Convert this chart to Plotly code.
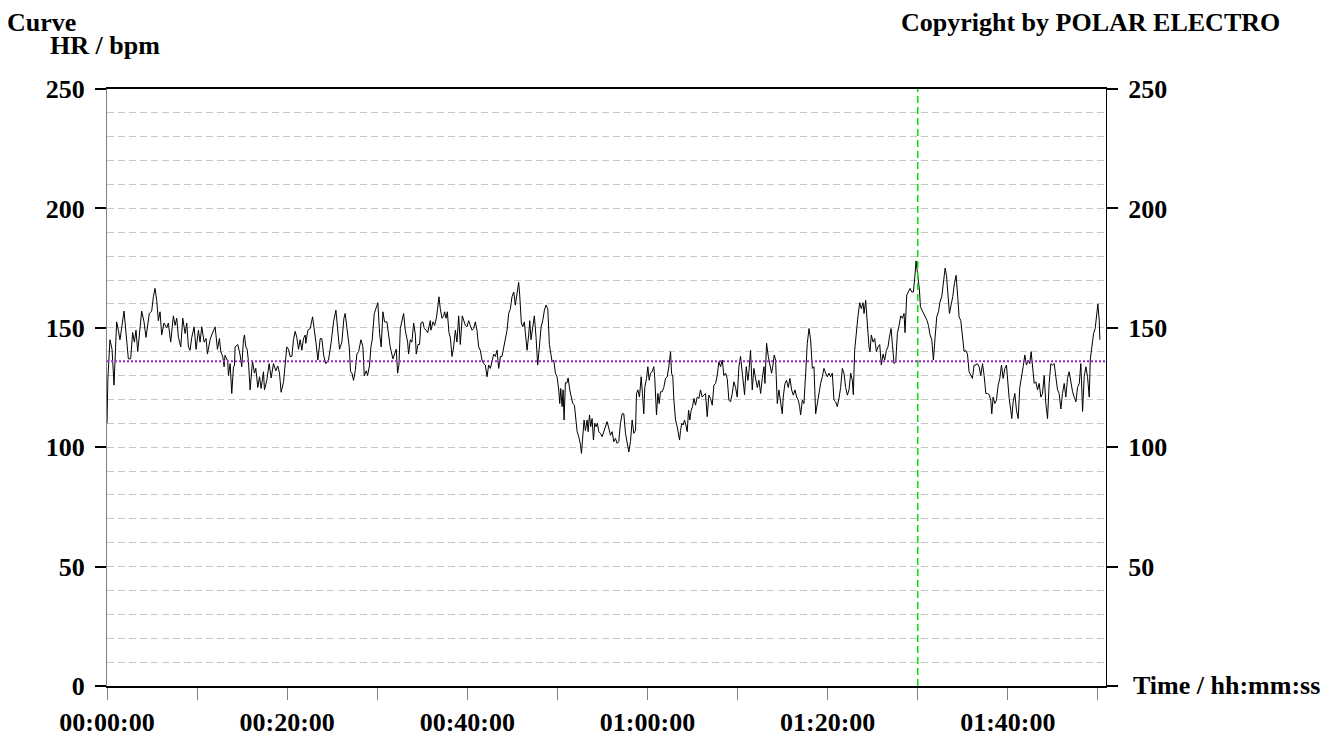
import plotly.graph_objects as go

# ---------------- data ----------------
minutes = [
    0.0, 0.1, 0.33, 0.56, 0.78, 1.07, 1.26, 1.44, 1.89, 2.11, 2.37, 2.63, 2.85, 3.04, 3.22, 3.41, 3.85, 4.11, 4.33, 4.7,
    4.96, 5.15, 5.33, 5.52, 5.7, 5.89, 6.07, 6.33, 6.63, 6.81, 7.07, 7.37, 7.56, 7.74, 7.93, 8.19, 8.41, 8.67, 8.85, 9.04,
    9.22, 9.41, 9.67, 9.89, 10.15, 10.33, 10.52, 10.78, 11.0, 11.15, 11.44, 11.63, 12.0, 12.26, 12.48, 12.63, 12.85, 13.0,
    13.1, 13.4, 13.48, 13.67, 13.85, 14.04, 14.15, 14.22, 14.52, 14.78, 14.96, 15.15, 15.26, 15.41, 15.56, 15.7, 15.89,
    16.15, 16.37, 16.52, 16.74, 16.93, 17.11, 17.37, 17.48, 17.74, 18.0, 18.22, 18.48, 18.74, 18.96, 19.15, 19.33, 19.6,
    19.78, 19.96, 20.15, 20.33, 20.52, 20.7, 20.89, 21.07, 21.26, 21.44, 21.63, 21.81, 22.0, 22.07, 22.3, 22.56, 22.82,
    23.04, 23.19, 23.41, 23.67, 23.85, 24.07, 24.3, 24.44, 24.59, 24.89, 25.15, 25.41, 25.63, 25.81, 26.07, 26.3, 26.44,
    26.67, 26.89, 27.04, 27.19,
    27.37, 27.56, 27.74, 27.93, 28.19, 28.41, 28.56, 28.78, 28.93, 29.15, 29.3, 29.44, 29.67, 29.89, 30.07, 30.26, 30.44,
    30.63, 30.81, 31.07, 31.26, 31.44, 31.74, 31.93, 32.11, 32.26, 32.41, 32.56, 32.74, 32.93, 33.11, 33.22, 33.37, 33.48,
    33.67, 33.85, 34.04, 34.22, 34.33, 34.52, 34.7, 34.85, 35.07, 35.22, 35.44, 35.6, 35.74, 35.89, 35.96, 36.19, 36.37,
    36.56, 36.7, 36.85, 37.0, 37.19, 37.37, 37.48, 37.63, 37.78, 37.96, 38.11, 38.3, 38.48, 38.67, 38.85, 39.04, 39.22,
    39.44, 39.59, 39.78, 39.96, 40.15, 40.33, 40.52, 40.7,
    40.89, 41.07, 41.26, 41.44, 41.63, 41.81, 42.0, 42.19, 42.37, 42.56, 42.74, 42.93, 43.11, 43.3, 43.48, 43.67, 43.85,
    44.04, 44.22, 44.41, 44.59, 44.78, 44.96, 45.15, 45.33, 45.52, 45.7, 45.81, 46.0, 46.15, 46.33, 46.44, 46.63, 46.81,
    46.93, 47.07, 47.26, 47.44, 47.63, 47.81, 48.0, 48.19, 48.37, 48.56, 48.74, 48.93, 49.11, 49.26, 49.41, 49.59, 49.78,
    49.96, 50.15, 50.26, 50.37, 50.52, 50.63, 50.74, 50.89, 51.07, 51.19, 51.37, 51.56, 51.7, 51.89, 52.0, 52.19, 52.37,
    52.56, 52.67, 52.81, 52.96, 53.11, 53.3, 53.41, 53.56, 53.7, 53.85, 54.0, 54.15, 54.3, 54.44, 54.59,
    54.78, 54.96, 55.15, 55.33, 55.52, 55.7, 55.89, 56.07, 56.26, 56.44, 56.63, 56.81, 57.0, 57.19, 57.37, 57.56, 57.74,
    57.93, 58.11, 58.3, 58.48, 58.67, 58.78, 58.93, 59.11, 59.3, 59.44, 59.59, 59.7, 59.89, 60.04, 60.19, 60.33, 60.52,
    60.7, 60.81, 61.0, 61.15, 61.3, 61.44, 61.63, 61.81, 62.0, 62.19, 62.37, 62.56, 62.67, 62.81, 62.93, 63.11, 63.3,
    63.44, 63.56, 63.67, 63.81, 63.96, 64.11, 64.26, 64.41, 64.56, 64.7, 64.85, 65.0, 65.15, 65.33, 65.52, 65.7, 65.89,
    66.07, 66.26, 66.44, 66.63, 66.81, 67.0, 67.19, 67.37, 67.56, 67.74, 67.93, 68.11, 68.3, 68.48,
    68.67, 68.85, 69.04, 69.22, 69.41, 69.59, 69.78, 69.96, 70.15, 70.33, 70.52, 70.78, 70.96, 71.15, 71.26, 71.44,
    71.63, 71.81, 72.0, 72.19, 72.37, 72.56, 72.74, 72.93, 73.04, 73.22, 73.41, 73.59, 73.78, 73.93, 74.07, 74.22, 74.41,
    74.59, 74.78, 74.96, 75.07, 75.26, 75.44, 75.63, 75.81, 76.0, 76.19, 76.37, 76.56, 76.74, 76.89, 77.0, 77.19, 77.37,
    77.56, 77.74, 77.93, 78.11, 78.3, 78.48, 78.67, 78.85, 79.04, 79.22, 79.41, 79.59, 79.78, 79.96, 80.15, 80.33, 80.52,
    80.7, 80.89, 81.07, 81.26, 81.44, 81.63, 81.81, 82.0, 82.19, 82.37,
    82.56, 82.74, 82.85, 83.0, 83.19, 83.37, 83.56, 83.74, 83.93, 84.04, 84.22, 84.41, 84.59, 84.7, 84.85, 85.04, 85.22,
    85.41, 85.59, 85.78, 85.96, 86.15, 86.33, 86.52, 86.7, 86.85, 87.04, 87.19, 87.37, 87.56, 87.74, 87.93, 88.11, 88.3,
    88.48, 88.59, 88.78, 88.96, 89.15, 89.33, 89.52, 89.67, 89.81, 90.0, 90.19, 90.3, 90.48, 90.67, 90.85, 91.04, 91.19,
    91.37, 91.56, 91.74, 91.93, 92.11, 92.3, 92.48, 92.67, 92.85, 93.04, 93.19, 93.33, 93.52, 93.7, 93.89, 94.07, 94.26,
    94.44, 94.59, 94.78, 94.96, 95.15, 95.33, 95.52, 95.7, 95.89, 96.07, 96.26,
    96.44, 96.63, 96.81, 97.0, 97.19, 97.37, 97.56, 97.74, 97.93, 98.11, 98.22, 98.37, 98.56, 98.74, 98.93, 99.11, 99.3,
    99.48, 99.67, 99.85, 100.0, 100.15, 100.33, 100.44, 100.59, 100.78, 100.96, 101.15, 101.33, 101.52, 101.7, 101.89,
    102.07, 102.26, 102.44, 102.59, 102.74, 102.93, 103.11, 103.3, 103.48, 103.67, 103.85, 104.04, 104.22, 104.41, 104.59,
    104.78, 104.96, 105.15, 105.33, 105.52, 105.7, 105.89, 106.07, 106.26, 106.44, 106.63, 106.81, 107.0, 107.19, 107.37,
    107.56, 107.74, 107.93, 108.11, 108.3, 108.48, 108.67, 108.85, 109.04, 109.15, 109.33, 109.52, 109.7, 109.85, 110.0,
    110.15, 110.22,
]

hr = [
    110, 129, 145, 141, 126, 152.5, 149, 145, 157, 147.6, 137, 137, 148, 144, 149, 140, 157, 152.5, 146, 156,
    157, 163, 166.5, 161.5, 153, 156.7, 147, 152, 150, 152, 144, 155, 151, 154, 146, 142, 154, 147.6, 152, 142,
    140.6, 146, 150.4, 141, 149, 144, 150.4, 144, 145.5, 139, 145, 147, 150.4, 141, 145.5, 140, 138, 133.7,
    138.5, 136, 130, 135, 122.5, 133.7, 134, 142, 143, 138.6, 133.7, 145, 147, 142, 141, 136, 124,
    136, 131, 133, 125, 129.5, 124.6, 131.6, 124, 128, 135, 129, 135, 132, 134, 131, 123, 127.4,
    136.5, 142, 141, 138, 138, 145, 148.5, 146, 141, 145, 140.6, 145.5, 147, 143.5, 149, 149.7, 154.6,
    149, 144, 136.5, 145.5, 145.5, 138, 135, 135.8, 136.5, 144, 152.5, 157.4, 146, 141, 144, 154, 156,
    149, 142, 131.6, 131,
    128, 132, 139, 140, 145, 142, 130, 132, 130, 134.4, 142, 145, 156, 159, 160.5, 147.6, 142,
    156.7, 152.5, 152.5, 146, 142, 137, 139, 141, 131, 134.4, 149.7, 152.5, 156, 149, 147, 144, 139,
    145, 144, 152, 147.6, 139, 143, 143, 152, 152.5, 149.7, 149, 148, 150.4, 153, 149, 152.5, 151,
    154, 158, 163, 158, 154, 155, 156.7, 154, 156.7, 148, 146, 138, 142, 149, 144, 155, 143,
    155, 153, 151, 150.4, 153, 151, 149, 149.7,
    152.5, 149, 142, 140.6, 136.5, 135, 134.4, 129.5, 134.4, 133, 136.5, 139, 138, 140.6, 133, 138, 138,
    142, 145, 149, 156, 158, 163, 165, 159.5, 164, 169, 164, 152, 150.4, 152.5, 148, 140.6, 147,
    153, 145, 151, 155, 146, 134.4, 142, 150.4, 153, 157.4, 159.5, 158, 143, 139, 135.8, 136.5, 131,
    129.5, 124, 118.3, 124.6, 117, 124, 111.4, 127, 127, 129, 124, 121, 118.3, 117.6, 112.8, 106.5, 104.4,
    101, 97.4, 104.4, 111.4, 107, 111.4, 106.5, 113.5, 108.6, 112, 103, 110, 108.6, 110, 106.5,
    105.8, 104.4, 106.5, 109, 110.7, 108, 105, 106.5, 102.3, 103.7, 101.6, 102.3, 110, 114, 114, 105.8, 102.3,
    98, 102.3, 111.4, 105.8, 107, 122.5, 124, 121, 129.5, 122.5, 114, 125, 128.8, 133.7, 128, 131, 131.6,
    133.7, 128.8, 113.5, 122.5, 118.3, 123.2, 123.2, 125, 128.8, 129.5, 133.7, 140, 131, 129.5, 119.7, 111.4, 108.6,
    105.8, 103, 107, 110, 109.3, 111.4, 109.3, 106.5, 115.5, 111.4, 115.5, 117, 120.4, 117.6, 121, 120.4, 124,
    121, 121.8, 122.5, 112.8, 121.8, 120.4, 117.6, 126, 126.7, 130, 135.8, 133.7, 136.5, 130,
    131, 128.8, 119.7, 119, 122.5, 127.4, 125, 121, 133.7, 138, 132.3, 122, 133.7, 128, 131.6, 140.6,
    124, 133, 128.8, 125, 128, 122.5, 128.8, 133.7, 126.7, 143.5, 138, 133.7, 131, 134.4, 138.6, 136.5, 118.3,
    124, 117.6, 114, 121, 126.7, 128, 125, 128.8, 124, 121.8, 124, 121, 119.7, 117, 113.5, 119.7, 118.3,
    131, 143.5, 149.7, 145, 133, 133.7, 114, 118.3, 124, 126.7, 129.5, 133, 131, 129.5, 131, 129.5, 131,
    119.7, 119, 117, 120.4, 125, 133, 131, 125, 121.8, 124,
    131, 128, 122, 140.6, 149, 155, 160.5, 158, 160.5, 156, 161.5, 150.4, 142, 140, 147, 144, 145.5,
    140, 142, 143, 134.4, 139, 136.5, 140.6, 142, 146, 149.7, 143, 135, 135.8, 147.6, 151, 155, 154,
    156, 148, 163.7, 165, 166.5, 165, 165, 171, 178, 172, 165.8, 158.8, 157.4, 156, 155, 153, 151,
    147, 145, 136.5, 146, 154.6, 156.7, 161, 163, 168.5, 175, 172, 164.4, 156, 159.5, 163, 168.5, 172,
    163, 154.6, 153, 145.5, 140, 140.6, 139, 131.6, 130, 128.8, 134.4,
    134.4, 135, 133.7, 130, 135, 130, 122.5, 122.5, 122, 119.7, 114, 121, 118.3, 119.7, 126, 128.8, 134.4,
    128.8, 133, 134.4, 126.7, 120.4, 115.5, 112, 119, 122.5, 115.5, 112, 125, 128.8, 133.7, 138.6,
    134.4, 136.5, 135, 140, 133.7, 126.7, 127.4, 124, 126.7, 121, 122.5, 130, 118.3, 112, 126.7,
    135, 134.4, 135, 129.5, 124, 122.5, 116, 122.5, 126.7, 121, 128.8, 131.6, 126.7, 123.2, 121,
    119, 125, 126.7, 135, 115, 129.5, 133.7, 129.5, 121, 136.5, 141.4, 147.6, 149.7, 155, 160,
    153, 145,
]

mean_hr = 136          # dotted purple average line
marker_time = 90       # green dashed cursor line (01:30:00)
x_max = 110.9          # end of the time axis, minutes

x_tick_vals = [0, 10, 20, 30, 40, 50, 60, 70, 80, 90, 100, 110]
x_tick_text = ["00:00:00", "", "00:20:00", "", "00:40:00", "", "01:00:00", "", "01:20:00", "", "01:40:00", ""]
y_tick_vals = [0, 50, 100, 150, 200, 250]
y_tick_text_left = ["0", "50", "100", "150", "200", "250"]
y_tick_text_right = ["", "50", "100", "150", "200", "250"]

# ---------------- figure ----------------
W, H = 1331, 740
L, R, T, B = 107, 1331 - 1106, 89, 740 - 686
PW, PH = W - L - R, H - T - B


def px(x):
    return (x - L) / PW


def py(y):
    return (H - B - y) / PH


FONT = "Liberation Serif"
tick_font = dict(family=FONT, size=26, color="black", weight="bold")

fig = go.Figure()
fig.add_trace(go.Scatter(
    x=minutes, y=hr, mode="lines",
    line=dict(color="black", width=1), hoverinfo="skip", showlegend=False,
))
fig.add_trace(go.Scatter(
    x=[0, x_max], y=[mean_hr, mean_hr], mode="lines", yaxis="y2",
    line=dict(color="#a020d0", width=2, dash="2px,2px"), hoverinfo="skip", showlegend=False,
))

fig.add_shape(type="line", xref="x", yref="paper", x0=marker_time, x1=marker_time, y0=0, y1=1,
              line=dict(color="#00e000", width=1.5, dash="7px,4px"), layer="above")

grid_style = dict(gridcolor="#c8c8c8", griddash="7px,4px", gridwidth=1)

fig.update_layout(
    width=W, height=H,
    margin=dict(l=L, r=R, t=T, b=B, pad=0, autoexpand=False),
    paper_bgcolor="white", plot_bgcolor="white",
    showlegend=False,
    xaxis=dict(
        range=[0, x_max], tickmode="array", tickvals=x_tick_vals, ticktext=x_tick_text,
        ticks="outside", ticklen=12, tickwidth=1, tickcolor="#808080",
        showline=True, linecolor="black", linewidth=2, mirror=True,
        showgrid=False, zeroline=False, tickfont=tick_font, automargin=False,
        ticklabelstandoff=0,
    ),
    yaxis=dict(
        range=[0, 250], tickmode="array", tickvals=y_tick_vals, ticktext=y_tick_text_left,
        ticks="outside", ticklen=11, tickwidth=2, tickcolor="black",
        showline=True, linecolor="#808080", linewidth=1, automargin=False,
        showgrid=True, zeroline=False, tickfont=tick_font, ticklabelstandoff=5,
        minor=dict(dtick=10, tick0=0, showgrid=True, ticks="", **grid_style),
        **grid_style,
    ),
    yaxis2=dict(
        range=[0, 250], tickmode="array", tickvals=y_tick_vals, ticktext=y_tick_text_right,
        overlaying="y", side="right", automargin=False,
        ticks="outside", ticklen=11, tickwidth=2, tickcolor="black",
        showline=True, linecolor="black", linewidth=1,
        showgrid=False, zeroline=False, tickfont=tick_font, ticklabelstandoff=5,
    ),
)

ann_font = dict(family=FONT, size=26, color="black", weight="bold")
fig.add_annotation(text="Curve", xref="paper", yref="paper", x=px(5), y=py(23),
                   xanchor="left", yanchor="middle", showarrow=False, font=ann_font)
fig.add_annotation(text="HR / bpm", xref="paper", yref="paper", x=px(48), y=py(45),
                   xanchor="left", yanchor="middle", showarrow=False, font=ann_font)
fig.add_annotation(text="Copyright by POLAR ELECTRO", xref="paper", yref="paper", x=px(1282), y=py(23),
                   xanchor="right", yanchor="middle", showarrow=False, font=ann_font)
fig.add_annotation(text="Time / hh:mm:ss", xref="paper", yref="paper", x=px(1131), y=py(685),
                   xanchor="left", yanchor="middle", showarrow=False, font=ann_font)

fig.write_html(
    "out.html",
    config={"displayModeBar": False, "staticPlot": True},
    post_script="document.body.style.margin='0';document.body.style.overflow='hidden';",
)
